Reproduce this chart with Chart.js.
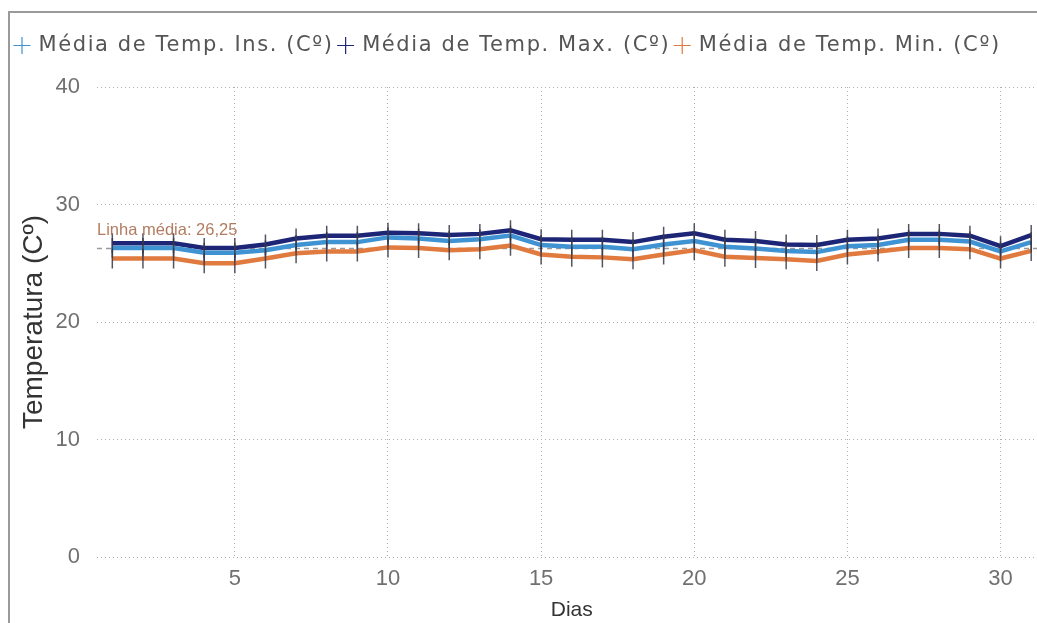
<!DOCTYPE html>
<html>
<head>
<meta charset="utf-8">
<script src="https://cdn.jsdelivr.net/npm/chart.js@4.4.1/dist/chart.umd.min.js"></script>
<style>
  html, body { margin: 0; padding: 0; background: #fff; overflow: hidden; }
  #frame {
    position: absolute; left: 8px; top: 11px;
    width: 1060px; height: 620px;
    border-left: 2px solid #9a9a9a; border-top: 2px solid #9a9a9a;
  }
  #chart { position: absolute; left: 0; top: 0; }
</style>
</head>
<body>
<div id="frame"><canvas id="chart" width="1048" height="610"></canvas></div>
<script>
// dias do mês
const dias = [1,2,3,4,5,6,7,8,9,10,11,12,13,14,15,16,17,18,19,20,21,22,23,24,25,26,27,28,29,30,31];

// médias diárias (Cº)
const tempIns = [26.3,26.3,26.3,25.9,25.9,26.1,26.55,26.8,26.8,27.2,27.1,26.9,27.05,27.35,26.55,26.4,26.4,26.2,26.6,26.9,26.4,26.25,26.05,25.95,26.45,26.55,27.0,27.0,26.85,26.0,26.8];
const tempMax = [26.7,26.7,26.7,26.3,26.3,26.6,27.1,27.35,27.35,27.6,27.55,27.4,27.5,27.8,27.05,27.0,27.0,26.8,27.25,27.55,27.0,26.9,26.6,26.55,27.0,27.1,27.5,27.5,27.35,26.45,27.4];
const tempMin = [25.4,25.4,25.4,25.0,25.0,25.4,25.85,26.0,26.0,26.35,26.3,26.1,26.2,26.5,25.75,25.55,25.5,25.35,25.75,26.1,25.55,25.45,25.35,25.2,25.75,26.0,26.3,26.3,26.2,25.4,26.05];

const mediaLinha = 26.25;
const xTicks = [5, 10, 15, 20, 25, 30];
const yTicks = [0, 10, 20, 30, 40];

const FONT = '"Liberation Sans", Arial, sans-serif';
const LEGEND_FONT = '"DejaVu Sans", sans-serif';

function pts(values) {
  return dias.map((d, i) => ({ x: d, y: values[i] }));
}

function serie(label, values, color) {
  return {
    label: label,
    data: pts(values),
    borderColor: color,
    backgroundColor: color,
    borderWidth: 4.5,
    tension: 0,
    pointStyle: 'line',
    pointRotation: 90,
    pointRadius: 10,
    pointBorderWidth: 1.5,
    pointBorderColor: 'rgba(55,55,70,0.85)',
    pointHoverRadius: 10
  };
}

// rótulo da linha média
const mediaLabel = {
  id: 'mediaLabel',
  afterDatasetsDraw(chart) {
    const { ctx, chartArea, scales } = chart;
    const y = scales.y.getPixelForValue(mediaLinha);
    ctx.save();
    ctx.font = '16.5px ' + FONT;
    ctx.fillStyle = 'rgba(170,110,80,0.9)';
    ctx.textAlign = 'left';
    ctx.textBaseline = 'bottom';
    ctx.fillText('Linha média: ' + mediaLinha.toFixed(2).replace('.', ','), chartArea.left, y - 10);
    ctx.restore();
  }
};

// legenda: espaço extra embaixo e letras mais espaçadas
const legendTweak = {
  id: 'legendTweak',
  beforeInit(chart) {
    const lg = chart.legend;
    const fit = lg.fit;
    const draw = lg.draw;
    lg.fit = function () {
      this.ctx.letterSpacing = '1.6px';
      fit.call(this);
      this.ctx.letterSpacing = '0px';
      this.height += 21;
    };
    lg.draw = function () {
      this.ctx.letterSpacing = '1.6px';
      draw.call(this);
      this.ctx.letterSpacing = '0px';
    };
  }
};

new Chart(document.getElementById('chart'), {
  type: 'line',
  data: {
    datasets: [
      {
        label: 'media',
        data: [{ x: 0.5, y: mediaLinha }, { x: 31.5, y: mediaLinha }],
        borderColor: '#9a9a9a',
        borderWidth: 1.5,
        borderDash: [5, 4],
        pointRadius: 0,
        order: 5
      },
      serie('Média de Temp. Min. (Cº)', tempMin, '#e07a3e'),
      serie('Média de Temp. Ins. (Cº)', tempIns, '#3f93d3'),
      serie('Média de Temp. Max. (Cº)', tempMax, '#1d2576')
    ]
  },
  options: {
    responsive: false,
    animation: false,
    layout: { padding: { left: 0, right: 0, top: 16, bottom: 0 } },
    plugins: {
      tooltip: { enabled: false },
      legend: {
        position: 'top',
        align: 'start',
        labels: {
          font: { family: LEGEND_FONT, size: 21 },
          color: '#555',
          usePointStyle: true,
          boxWidth: 12,
          boxHeight: 12,
          padding: 6,
          generateLabels(chart) {
            const order = [2, 3, 1];
            return order.map(i => {
              const ds = chart.data.datasets[i];
              return {
                text: ds.label,
                fillStyle: ds.borderColor,
                strokeStyle: ds.borderColor,
                fontColor: '#555',
                lineWidth: 1.2,
                pointStyle: 'cross',
                datasetIndex: i
              };
            });
          }
        }
      }
    },
    scales: {
      x: {
        type: 'linear',
        min: 0.5,
        max: 31.5,
        afterBuildTicks(scale) {
          scale.ticks = xTicks.map(v => ({ value: v }));
        },
        afterFit(scale) { scale.height = 66; },
        border: { display: false, dash: [1, 3] },
        grid: { color: '#b0b0b0', drawTicks: false, lineWidth: 1 },
        ticks: { font: { family: FONT, size: 22 }, color: '#707070', padding: 9, maxRotation: 0 },
        title: { display: true, text: 'Dias', font: { family: FONT, size: 21 }, color: '#333', padding: 0 }
      },
      y: {
        min: 0,
        max: 40,
        afterBuildTicks(scale) {
          scale.ticks = yTicks.map(v => ({ value: v }));
        },
        afterFit(scale) { scale.width = 87; },
        border: { display: false, dash: [1, 3] },
        grid: { color: '#b0b0b0', drawTicks: false, lineWidth: 1 },
        ticks: { font: { family: FONT, size: 22 }, color: '#707070', padding: 17 },
        title: { display: true, text: 'Temperatura (Cº)', font: { family: FONT, size: 28 }, color: '#333', padding: { top: 7, bottom: 0 } }
      }
    }
  },
  plugins: [mediaLabel, legendTweak]
});
</script>
</body>
</html>
